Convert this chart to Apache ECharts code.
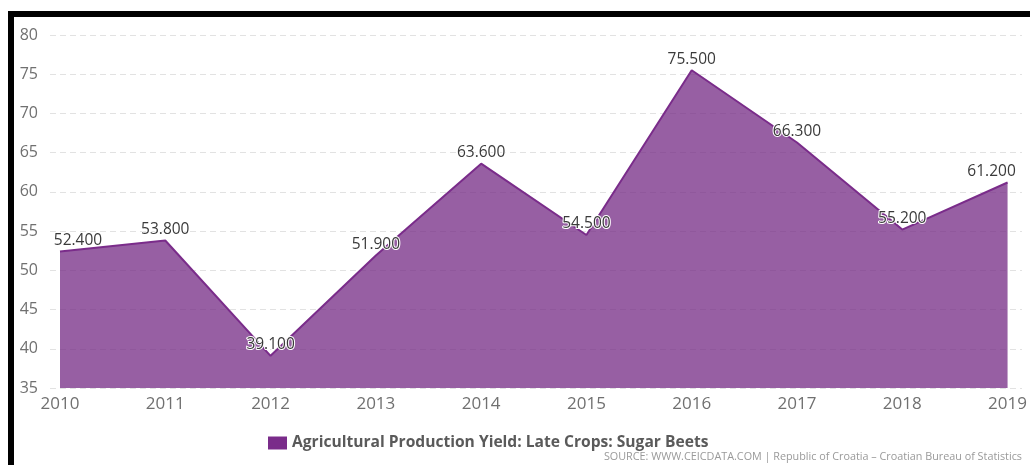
<!DOCTYPE html>
<html>
<head>
<meta charset="utf-8">
<style>
  html, body { margin: 0; padding: 0; background: #fff; }
  #chart { width: 1030px; height: 465px; }
</style>
<script src="https://cdn.jsdelivr.net/npm/echarts@6/dist/echarts.min.js"></script>
</head>
<body>
<div id="chart"></div>
<script>
// Sugar beet yield, Croatia, 2010–2019
const years = ['2010', '2011', '2012', '2013', '2014', '2015', '2016', '2017', '2018', '2019'];
const yieldValues = [52.4, 53.8, 39.1, 51.9, 63.6, 54.5, 75.5, 66.3, 55.2, 61.2];
const yMin = 35;
const yMax = 80;
const yStep = 5;

const seriesName = 'Agricultural Production Yield: Late Crops: Sugar Beets';
const sourceText = 'SOURCE: WWW.CEICDATA.COM | Republic of Croatia \u2013 Croatian Bureau of Statistics';

const FONT = '"Open Sans", "Noto Sans", sans-serif';
const lineColor = '#7a2c8a';

// keep the edge labels inside the plot
const points = yieldValues.map((v, i) => {
  const item = { value: v };
  if (i === 0) item.label = { offset: [18, 0] };
  if (i === yieldValues.length - 1) item.label = { offset: [-16, 0] };
  return item;
});

const chart = echarts.init(document.getElementById('chart'), null, { renderer: 'canvas' });

chart.setOption({
  backgroundColor: '#ffffff',
  animation: false,
  grid: [
    // value axis + dashed grid lines (spans the full width)
    { left: 50, right: 8, top: 35, bottom: 77, containLabel: false },
    // plotted series
    { left: 60, right: 19, top: 35, bottom: 77, containLabel: false }
  ],
  xAxis: [
    { gridIndex: 0, type: 'value', show: false, min: 0, max: 1 },
    {
      gridIndex: 1,
      type: 'category',
      data: years,
      boundaryGap: false,
      axisLine: { show: false },
      axisTick: { show: false },
      splitLine: { show: false },
      axisLabel: {
        color: '#707070',
        fontFamily: FONT,
        fontSize: 17,
        margin: 8,
        interval: 0
      }
    }
  ],
  yAxis: [
    {
      gridIndex: 0,
      type: 'value',
      min: yMin,
      max: yMax,
      interval: yStep,
      axisLine: { show: false },
      axisTick: { show: false },
      axisLabel: {
        color: '#707070',
        fontFamily: FONT,
        fontSize: 16,
        margin: 12
      },
      splitLine: {
        show: true,
        lineStyle: { color: '#e2e2e2', type: [6, 4], width: 1 }
      }
    },
    {
      gridIndex: 1,
      type: 'value',
      min: yMin,
      max: yMax,
      interval: yStep,
      show: false,
      splitLine: { show: false }
    }
  ],
  legend: {
    show: true,
    left: 263,
    top: 430,
    icon: 'rect',
    itemWidth: 19,
    itemHeight: 13,
    itemGap: 4,
    textStyle: {
      color: '#5a5a5a',
      fontFamily: FONT,
      fontSize: 15.6,
      fontWeight: 'bold'
    },
    data: [{ name: seriesName, itemStyle: { color: lineColor, opacity: 1 } }]
  },
  graphic: [
    // frame
    { type: 'rect', shape: { x: 8, y: 11, width: 1022, height: 6 }, style: { fill: '#000' }, z: 100 },
    { type: 'rect', shape: { x: 8, y: 11, width: 6, height: 454 }, style: { fill: '#000' }, z: 100 },
    {
      type: 'text',
      right: 8,
      top: 451,
      style: {
        text: sourceText,
        fill: '#9a9a9a',
        font: '10.8px ' + FONT
      }
    }
  ],
  series: [
    {
      name: seriesName,
      type: 'line',
      xAxisIndex: 1,
      yAxisIndex: 1,
      data: points,
      symbol: 'circle',
      symbolSize: 0.1,
      showSymbol: true,
      lineStyle: { color: lineColor, width: 2 },
      itemStyle: { color: lineColor },
      areaStyle: { color: '#742a84', opacity: 0.75, origin: 'start' },
      label: {
        show: true,
        position: 'top',
        distance: 3,
        formatter: p => p.value.toFixed(3),
        color: '#3a3a3a',
        fontFamily: FONT,
        fontSize: 15.5,
        textBorderColor: '#ffffff',
        textBorderWidth: 2
      }
    }
  ]
});
</script>
</body>
</html>
